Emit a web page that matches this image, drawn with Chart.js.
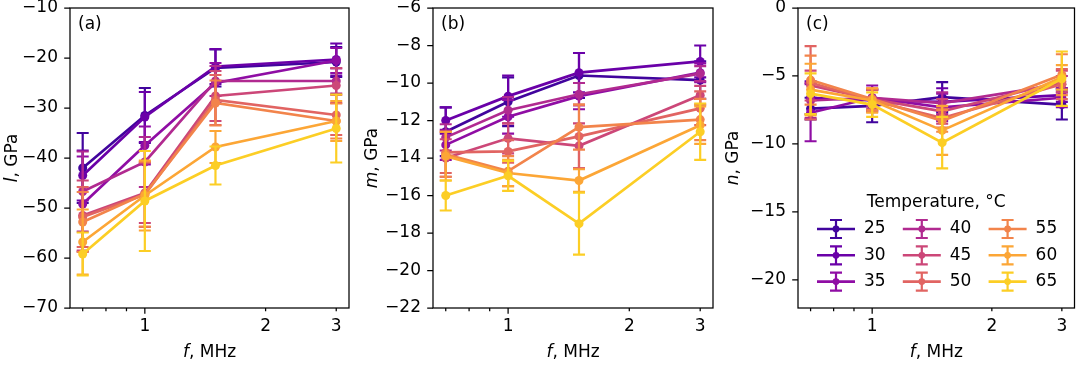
<!DOCTYPE html>
<html>
<head>
<meta charset="utf-8">
<script src="https://cdn.jsdelivr.net/npm/chart.js@4"></script>
<style>
  html, body { margin: 0; padding: 0; background: #fff; }
  #wrap { position: relative; width: 1079px; height: 365px; }
  canvas { position: absolute; top: 0; }
</style>
</head>
<body>
<div id="wrap">
  <canvas id="ca" width="360" height="365" style="left:0px"></canvas>
  <canvas id="cb" width="360" height="365" style="left:360px"></canvas>
  <canvas id="cc" width="359" height="365" style="left:720px"></canvas>
</div>
<script>
// 頻率 (MHz) 與溫度
const freqs = [0.7, 1, 1.5, 3]
const temps = [25, 30, 35, 40, 45, 50, 55, 60, 65]
// plasma colormap 0.1 ~ 0.9
const colors = ["#41049d", "#6a00a8", "#8f0da4", "#b12a90", "#cc4778", "#e16462", "#f2844b", "#fca636", "#fcce25"]

// x 軸刻度
const xTicks = [0.7, 0.8, 0.9, 1, 2, 3]
const xTickLabels = { 1: "1", 2: "2", 3: "3" }

// (a) l, GPa
const lValues = [
  [-42.0, -31.5, -22.0, -20.8],
  [-43.5, -31.8, -21.7, -20.3],
  [-49.2, -37.5, -25.0, -20.5],
  [-46.7, -40.8, -24.6, -24.6],
  [-51.5, -47.0, -27.6, -25.5],
  [-51.8, -47.3, -28.4, -31.4],
  [-52.8, -47.2, -29.0, -32.6],
  [-56.8, -47.5, -37.8, -32.6],
  [-59.2, -48.6, -41.5, -34.1],
]
const lErrors = [
  [7.0, 5.5, 3.7, 3.0],
  [5.0, 5.0, 3.5, 3.2],
  [9.5, 3.8, 4.0, 2.5],
  [8.0, 5.0, 3.0, 2.5],
  [7.0, 6.0, 5.0, 3.5],
  [6.0, 6.5, 5.0, 4.0],
  [6.0, 6.5, 4.5, 3.5],
  [6.5, 7.0, 3.2, 4.0],
  [4.3, 10.0, 3.8, 6.8],
]
const lTicks = [-70, -60, -50, -40, -30, -20, -10]

// (b) m, GPa
const mValues = [
  [-12.6, -11.0, -9.6, -9.85],
  [-12.0, -10.7, -9.45, -8.85],
  [-13.3, -11.8, -10.7, -9.45],
  [-12.9, -11.45, -10.6, -9.5],
  [-14.0, -12.95, -13.35, -10.65],
  [-13.7, -13.65, -12.85, -11.35],
  [-13.8, -14.7, -12.35, -11.95],
  [-13.9, -14.8, -15.2, -12.25],
  [-16.0, -14.95, -17.5, -12.6],
]
const mErrors = [
  [1.3, 1.3, 1.2, 1.0],
  [0.7, 1.1, 1.05, 0.85],
  [0.8, 0.9, 0.7, 0.5],
  [0.7, 0.7, 0.6, 0.4],
  [1.0, 0.8, 1.2, 0.5],
  [1.1, 0.6, 1.7, 0.9],
  [1.2, 0.8, 1.2, 1.1],
  [1.3, 0.7, 0.6, 1.0],
  [0.8, 0.8, 1.65, 1.5],
]
const mTicks = [-22, -20, -18, -16, -14, -12, -10, -8, -6]

// (c) n, GPa
const nValues = [
  [-7.4, -7.2, -6.55, -7.1],
  [-6.6, -6.8, -6.9, -6.4],
  [-7.7, -6.6, -7.3, -6.6],
  [-6.8, -6.6, -7.0, -5.6],
  [-5.7, -6.7, -7.6, -5.4],
  [-5.5, -6.8, -8.1, -5.6],
  [-5.3, -6.7, -8.3, -4.9],
  [-6.0, -6.8, -9.0, -5.1],
  [-6.3, -7.1, -9.9, -5.2],
]
const nErrors = [
  [0.8, 1.2, 1.1, 1.1],
  [1.2, 0.8, 1.0, 0.5],
  [2.1, 0.9, 1.0, 0.7],
  [1.3, 0.6, 0.8, 0.6],
  [1.1, 0.7, 0.9, 0.8],
  [2.7, 0.8, 0.7, 1.1],
  [1.8, 0.8, 0.8, 1.5],
  [1.9, 0.9, 1.8, 0.9],
  [1.5, 0.9, 1.9, 2.0],
]
const nTicks = [-20, -15, -10, -5, 0]

const FONT = "DejaVu Sans"
Chart.defaults.font.family = FONT
Chart.defaults.font.size = 17
Chart.defaults.color = "#000"

const minus = (v) => (v < 0 ? "\u2212" + Math.abs(v) : String(v))

// 每個資料點畫誤差棒 (畫在該條線之前, 與 matplotlib 疊放順序一致)
const errorBars = {
  id: "errorBars",
  beforeDatasetDraw(chart, args) {
    const ds = chart.data.datasets[args.index]
    const ys = chart.scales.y
    const area = chart.chartArea
    const ctx = chart.ctx
    ctx.save()
    ctx.beginPath()
    ctx.rect(area.left, area.top, area.right - area.left, area.bottom - area.top)
    ctx.clip()
    ctx.strokeStyle = ds.borderColor
    ctx.lineWidth = 2.2
    args.meta.data.forEach((pt, j) => {
      const v = ds.data[j].y
      const e = ds.errors[j]
      const y1 = ys.getPixelForValue(v + e)
      const y2 = ys.getPixelForValue(v - e)
      ctx.beginPath()
      ctx.moveTo(pt.x, y1)
      ctx.lineTo(pt.x, y2)
      ctx.moveTo(pt.x - 6, y1)
      ctx.lineTo(pt.x + 6, y1)
      ctx.moveTo(pt.x - 6, y2)
      ctx.lineTo(pt.x + 6, y2)
      ctx.stroke()
    })
    ctx.restore()
  },
}

// 外框、刻度線、軸標題、子圖編號、圖例
const decorations = {
  id: "decorations",
  afterDraw(chart) {
    const o = chart.options.plugins.decorations
    const ctx = chart.ctx
    const a = chart.chartArea
    ctx.save()
    ctx.strokeStyle = "#000"
    ctx.lineWidth = 1.25
    ctx.strokeRect(a.left, a.top, a.right - a.left, a.bottom - a.top)

    ctx.beginPath()
    chart.scales.y.ticks.forEach((t) => {
      const y = chart.scales.y.getPixelForValue(t.value)
      ctx.moveTo(a.left, y)
      ctx.lineTo(a.left - 5.8, y)
    })
    chart.scales.x.ticks.forEach((t) => {
      const x = chart.scales.x.getPixelForValue(t.value)
      const len = t.value === 1 ? 5.8 : 3.3
      ctx.moveTo(x, a.bottom)
      ctx.lineTo(x, a.bottom + len)
    })
    ctx.stroke()

    ctx.fillStyle = "#000"
    ctx.textBaseline = "middle"
    // 子圖編號
    ctx.font = "17px " + FONT
    ctx.textAlign = "left"
    ctx.fillText(o.letter, a.left + 8, a.top + 17)

    // 軸標題: 斜體符號 + 單位
    const italic = "italic 17px " + FONT
    const normal = "17px " + FONT
    const drawTitle = (sym, rest, cx, cy) => {
      ctx.font = italic
      const w1 = ctx.measureText(sym).width
      ctx.font = normal
      const w2 = ctx.measureText(rest).width
      const x0 = cx - (w1 + w2) / 2
      ctx.textAlign = "left"
      ctx.font = italic
      ctx.fillText(sym, x0, cy)
      ctx.font = normal
      ctx.fillText(rest, x0 + w1, cy)
    }
    drawTitle("f", ", MHz", (a.left + a.right) / 2, 353)

    ctx.save()
    ctx.translate(o.yTitleX, (a.top + a.bottom) / 2)
    ctx.rotate(-Math.PI / 2)
    drawTitle(o.ySymbol, ", GPa", 0, 0)
    ctx.restore()

    if (o.legend) {
      ctx.font = normal
      ctx.textAlign = "center"
      ctx.fillText("Temperature, \u00b0C", (a.left + a.right) / 2, a.top + 195)
      temps.forEach((t, i) => {
        const col = Math.floor(i / 3)
        const row = i % 3
        const x0 = a.left + 19 + col * 85.8
        const y0 = a.top + 221 + row * 26.3
        const c = colors[i]
        ctx.strokeStyle = c
        ctx.fillStyle = c
        ctx.lineWidth = 2.6
        ctx.beginPath()
        ctx.moveTo(x0, y0)
        ctx.lineTo(x0 + 38, y0)
        ctx.stroke()
        const xm = x0 + 19
        ctx.lineWidth = 2.2
        ctx.beginPath()
        ctx.moveTo(xm, y0 - 9)
        ctx.lineTo(xm, y0 + 9)
        ctx.moveTo(xm - 6, y0 - 9)
        ctx.lineTo(xm + 6, y0 - 9)
        ctx.moveTo(xm - 6, y0 + 9)
        ctx.lineTo(xm + 6, y0 + 9)
        ctx.stroke()
        ctx.beginPath()
        ctx.arc(xm, y0, 3.4, 0, Math.PI * 2)
        ctx.fill()
        ctx.fillStyle = "#000"
        ctx.textAlign = "left"
        ctx.fillText(String(t), x0 + 47, y0)
      })
    }
    ctx.restore()
  },
}

// 建立單一子圖
function makePanel(id, values, errors, yTicks, cfg) {
  const datasets = temps.map((t, i) => ({
    label: String(t),
    data: freqs.map((f, j) => ({ x: f, y: values[i][j] })),
    errors: errors[i],
    borderColor: colors[i],
    backgroundColor: colors[i],
    borderWidth: 2.7,
    pointRadius: 4.5,
    pointBorderWidth: 0,
    pointHoverRadius: 4.5,
    tension: 0,
    // 後面的溫度畫在上層
    order: temps.length - 1 - i,
  }))

  return new Chart(document.getElementById(id), {
    type: "line",
    data: { datasets },
    plugins: [errorBars, decorations],
    options: {
      responsive: false,
      devicePixelRatio: 1,
      animation: false,
      events: [],
      layout: { padding: { top: 8, right: cfg.rightPad, left: 0, bottom: 0 } },
      plugins: {
        legend: { display: false },
        tooltip: { enabled: false },
        decorations: cfg,
      },
      scales: {
        x: {
          type: "logarithmic",
          min: 0.6508,
          max: 3.228,
          grid: { display: false, drawTicks: false },
          border: { display: false },
          ticks: {
            autoSkip: false,
            maxRotation: 0,
            minRotation: 0,
            padding: 8,
            callback: (v) => xTickLabels[v] || "",
          },
          afterBuildTicks: (s) => {
            s.ticks = xTicks.map((v) => ({ value: v }))
          },
          afterFit: (s) => {
            s.height = 57
            s.paddingLeft = 0
            s.paddingRight = 0
          },
        },
        y: {
          type: "linear",
          min: cfg.min,
          max: cfg.max,
          grid: { display: false, drawTicks: false },
          border: { display: false },
          ticks: { padding: 12, callback: (v) => minus(v) },
          afterBuildTicks: (s) => {
            s.ticks = yTicks.map((v) => ({ value: v }))
          },
          afterFit: (s) => {
            s.width = cfg.axisWidth
            s.paddingTop = 0
            s.paddingBottom = 0
          },
        },
      },
    },
  })
}

makePanel("ca", lValues, lErrors, lTicks, {
  min: -70, max: -10, axisWidth: 70, rightPad: 11, letter: "(a)", ySymbol: "l", yTitleX: 13,
})
makePanel("cb", mValues, mErrors, mTicks, {
  min: -22, max: -6, axisWidth: 73, rightPad: 7, letter: "(b)", ySymbol: "m", yTitleX: 13,
})
makePanel("cc", nValues, nErrors, nTicks, {
  min: -22.06, max: 0, axisWidth: 78, rightPad: 2, letter: "(c)", ySymbol: "n", yTitleX: 14, legend: true,
})
</script>
</body>
</html>
